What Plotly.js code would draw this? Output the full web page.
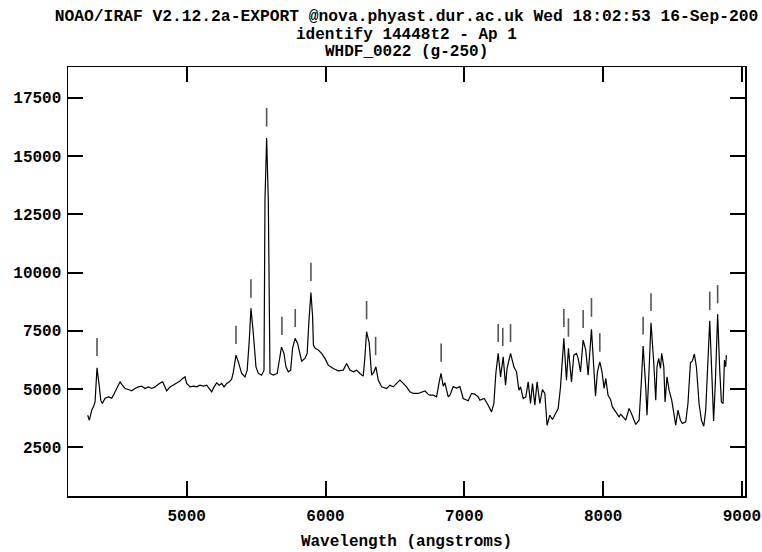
<!DOCTYPE html>
<html>
<head>
<meta charset="utf-8">
<script src="https://cdn.plot.ly/plotly-3.0.1.min.js"></script>
<style>html,body{margin:0;padding:0;background:#fff;}#chart{width:762px;height:552px;}</style>
</head>
<body>
<div id="chart"></div>
<script>
// Spectrum: wavelength (angstroms) and flux
const wavelength = [4287,4299,4316,4328,4340,4354,4371,4381,4392,4412,4436,4460,4472,4484,4500,4520,4536,4556,4580,4604,4628,4652,4676,4700,4724,4748,4772,4803,4827,4844,4856,4880,4904,4928,4952,4971,4988,5000,5024,5048,5072,5096,5120,5144,5168,5180,5197,5216,5235,5252,5269,5288,5307,5324,5336,5355,5372,5396,5420,5436,5451,5463,5480,5499,5516,5540,5557,5564,5576,5588,5600,5624,5652,5672,5683,5701,5715,5732,5749,5763,5781,5799,5816,5828,5852,5868,5881,5895,5907,5913,5924,5948,5972,5996,6020,6056,6092,6128,6152,6176,6200,6224,6248,6272,6284,6296,6315,6332,6349,6363,6380,6404,6440,6464,6488,6512,6536,6560,6584,6608,6632,6668,6704,6716,6740,6752,6776,6800,6819,6832,6848,6860,6884,6896,6920,6944,6968,6992,7028,7052,7076,7100,7112,7143,7172,7196,7213,7227,7244,7261,7280,7297,7308,7333,7357,7376,7393,7405,7424,7443,7460,7477,7491,7508,7524,7544,7563,7580,7596,7616,7635,7652,7676,7693,7717,7736,7750,7772,7789,7808,7820,7837,7856,7875,7892,7916,7927,7945,7959,7976,7992,8007,8019,8035,8053,8067,8091,8115,8127,8143,8163,8187,8204,8235,8259,8276,8288,8307,8316,8331,8345,8365,8379,8388,8400,8413,8422,8437,8446,8460,8475,8494,8523,8539,8557,8571,8595,8611,8629,8643,8657,8672,8691,8708,8725,8739,8751,8768,8782,8796,8809,8825,8840,8852,8864,8874,8883,8888];
const flux = [3875,3660,4090,4232,4447,5908,5091,4520,4378,4606,4662,4606,4735,4877,5091,5307,5165,5023,4980,4920,5023,5091,5122,5023,5091,5023,5091,5238,5307,5091,4920,5091,5165,5238,5337,5453,5522,5238,5091,5122,5091,5165,5122,5165,4950,4877,5091,5264,5165,5238,5091,5238,5307,5423,5723,6454,6166,5668,5522,5809,7099,8461,7387,5951,5668,5594,5809,13116,15768,13116,5668,5594,5668,6381,6798,6527,5951,5736,5809,6755,7172,6957,6454,6196,6312,6527,7958,9140,8100,6884,6755,6669,6527,6312,6024,5882,5779,5809,6097,5809,5736,5809,5668,5552,6381,7464,6970,5594,5736,5951,5380,5091,5023,5165,5091,5238,5380,5238,5091,4877,4808,4808,4877,4920,4778,4735,4735,4662,5294,5668,5122,5272,4662,4735,5100,5036,5100,4593,4498,4808,4778,4662,4520,4593,4305,4017,4378,5668,6527,5522,6381,5165,5882,6527,5951,5736,4950,5091,4593,4662,5307,4378,5238,4305,5307,4378,4980,4808,3445,3875,3691,3875,4163,5091,7172,5380,6742,5307,6454,6527,6312,5736,7099,6669,5594,7559,6239,4692,5736,6166,5736,5023,5453,4735,4550,4232,4017,3802,3918,3802,3660,4163,3948,3476,3660,5380,6841,5091,3875,5809,7842,6097,4520,5951,6312,5882,6527,5951,4447,5522,4950,4520,3445,4090,3660,3519,3588,4378,6123,6209,6497,5951,4378,3660,3403,4090,5951,7928,5809,3630,5380,8203,5809,4447,4378,6239,5951,6454];

// Identified line marks: wavelength, mark bottom and mark top (flux units)
const markWavelength = [4354,5355,5463,5576,5686,5782,5895,6296,6361,6833,7244,7277,7333,7717,7750,7856,7916,7976,8288,8345,8768,8825];
const markBottom = [6411,6927,8917,16266,7314,7658,9635,7988,6454,6166,7013,6841,7013,7658,7241,7615,8100,6596,7344,8345,8388,8676];
const markTop = [7185,7713,9708,17057,8100,8431,10421,8775,7241,6957,7786,7627,7786,8431,8031,8388,8904,7387,8100,9106,9175,9463];

const xTickVals = [5000,6000,7000,8000,9000];
const yTickVals = [2500,5000,7500,10000,12500,15000,17500];

const titleLines = [
  'NOAO/IRAF V2.12.2a-EXPORT @nova.phyast.dur.ac.uk Wed 18:02:53 16-Sep-200',
  'identify 14448t2 - Ap 1',
  'WHDF_0022 (g-250)'
];

const mx = [], my = [];
for (let i = 0; i < markWavelength.length; i++) {
  mx.push(markWavelength[i], markWavelength[i], null);
  my.push(markBottom[i], markTop[i], null);
}

const FONT = {family: '"Liberation Mono", "DejaVu Sans Mono", monospace', size: 16, color: '#000', weight: 'bold'};
const TFONT = {family: '"Liberation Mono", "DejaVu Sans Mono", monospace', size: 16.3, color: '#000', weight: 'bold'};

const traces = [
  {x: wavelength, y: flux, type: 'scatter', mode: 'lines', line: {color: '#000', width: 1.2}, hoverinfo: 'skip', showlegend: false},
  {x: mx, y: my, type: 'scatter', mode: 'lines', line: {color: '#555', width: 1.6}, hoverinfo: 'skip', showlegend: false}
];

const H = 552, T = 67, B = 56;
const plotH = H - T - B;
function paperY(px) { return (H - B - px) / plotH; }

const layout = {
  width: 762, height: 552,
  margin: {l: 68, r: 17, t: T, b: B, pad: 0},
  paper_bgcolor: '#fff', plot_bgcolor: '#fff',
  showlegend: false,
  title: {text: titleLines[0], font: TFONT, x: 0.5, xref: 'paper', xanchor: 'center', y: 1 - 15/H, yref: 'container', yanchor: 'middle'},
  annotations: [
    {text: titleLines[1], xref: 'paper', yref: 'paper', x: 0.5, y: paperY(35), xanchor: 'center', yanchor: 'middle', showarrow: false, font: FONT},
    {text: titleLines[2], xref: 'paper', yref: 'paper', x: 0.5, y: paperY(52), xanchor: 'center', yanchor: 'middle', showarrow: false, font: FONT}
  ],
  xaxis: {
    range: [4145, 9022], tickmode: 'array', tickvals: xTickVals, tickformat: 'd',
    ticks: 'inside', ticklen: 15, tickwidth: 2, tickcolor: '#000',
    showline: true, linecolor: '#000', linewidth: 1.5, mirror: 'ticks',
    showgrid: false, zeroline: false, tickfont: FONT, ticklabelstandoff: 4,
    title: {text: 'Wavelength (angstroms)', font: FONT, standoff: 10}
  },
  yaxis: {
    range: [407, 18820], tickmode: 'array', tickvals: yTickVals, tickformat: 'd',
    ticks: 'inside', ticklen: 15, tickwidth: 2, tickcolor: '#000',
    showline: true, linecolor: '#000', linewidth: 1.5, mirror: 'ticks',
    showgrid: false, zeroline: false, tickfont: FONT, ticklabelstandoff: 2
  }
};

Plotly.newPlot('chart', traces, layout, {staticPlot: true, displayModeBar: false});
</script>
</body>
</html>
